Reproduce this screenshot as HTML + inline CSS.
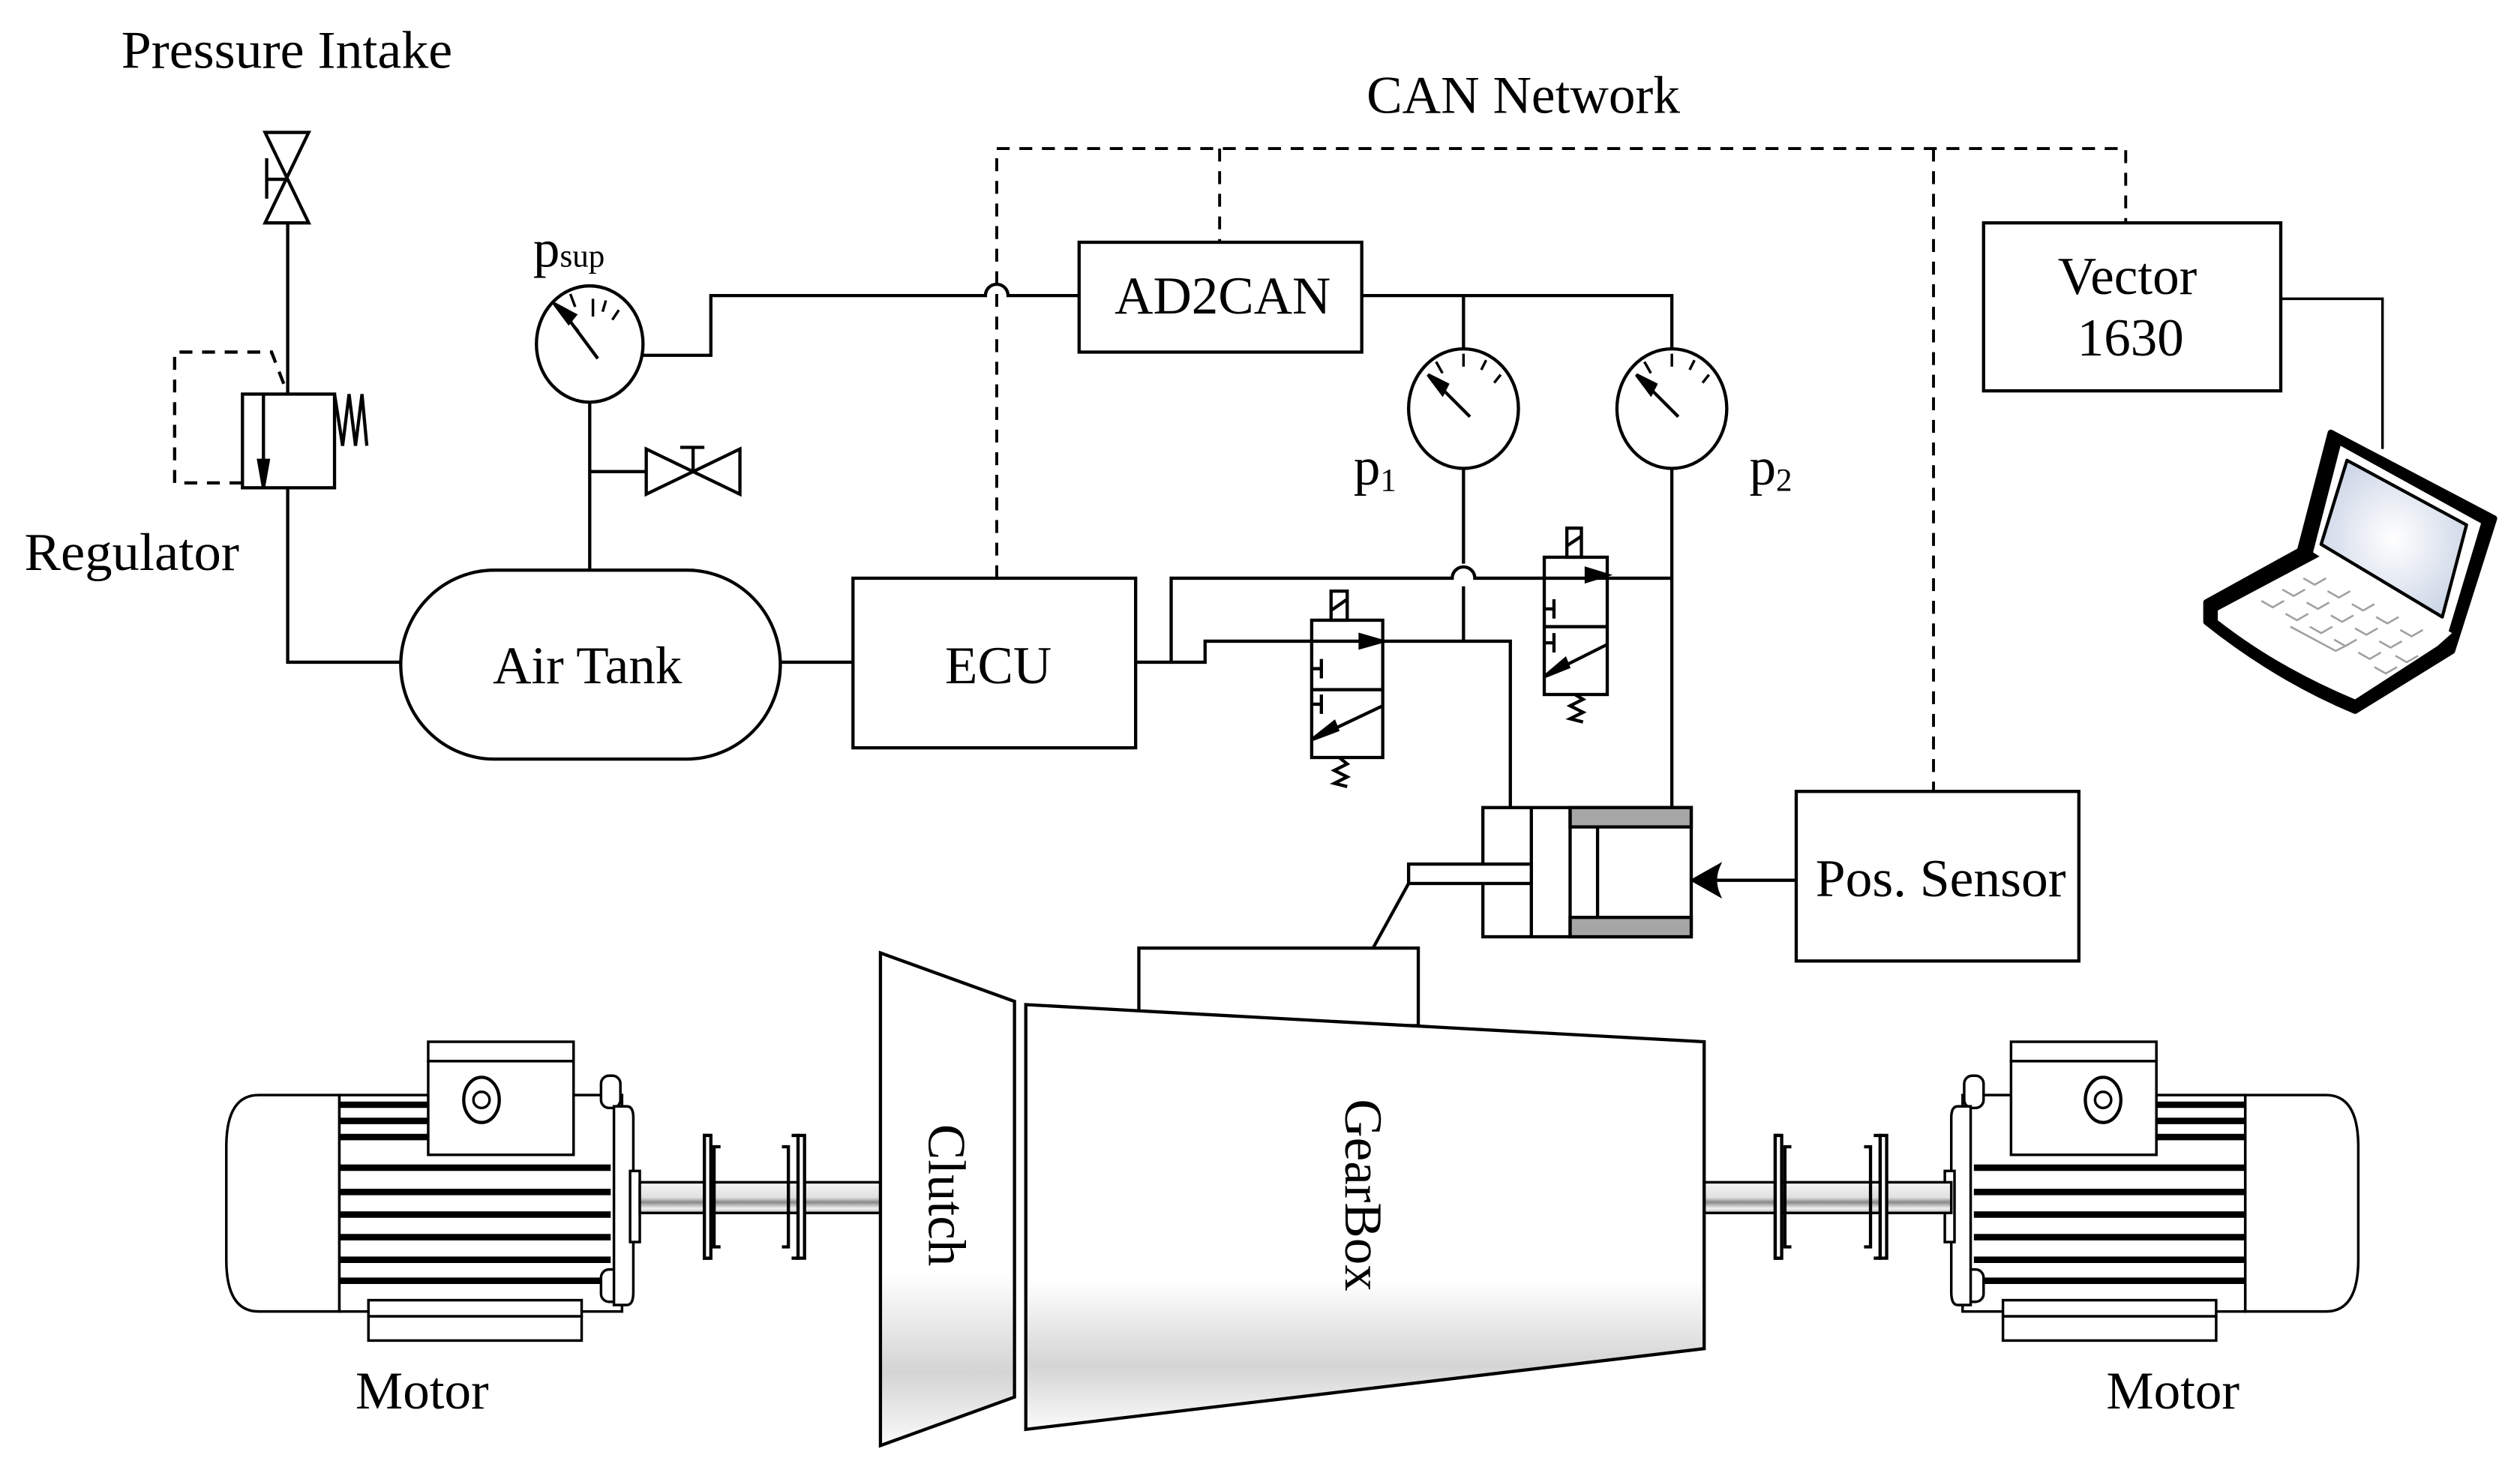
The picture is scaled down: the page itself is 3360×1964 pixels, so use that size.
<!DOCTYPE html>
<html><head><meta charset="utf-8"><style>
html,body{margin:0;padding:0;background:#fff;}
svg{display:block;}
text{font-family:"Liberation Serif",serif;fill:#000;}
</style></head><body>
<svg width="3360" height="1964" viewBox="0 0 1560 912" xmlns="http://www.w3.org/2000/svg">
<defs>
<linearGradient id="gb" x1="0" y1="0" x2="0" y2="1">
<stop offset="0" stop-color="#fff"/><stop offset="0.65" stop-color="#fff"/><stop offset="0.85" stop-color="#d4d4d4"/><stop offset="1" stop-color="#fafafa"/></linearGradient>
<linearGradient id="sh" x1="0" y1="0" x2="0" y2="1">
<stop offset="0" stop-color="#f4f4f4"/><stop offset="0.5" stop-color="#e0e0e0"/><stop offset="0.65" stop-color="#888"/><stop offset="0.85" stop-color="#f0f0f0"/><stop offset="1" stop-color="#bbb"/></linearGradient>
<radialGradient id="scr" cx="0.5" cy="0.5" r="0.6"><stop offset="0" stop-color="#fff"/><stop offset="1" stop-color="#c8d2e4"/></radialGradient>
<g id="motor" fill="#fff" stroke="#000" stroke-width="1.6">
<path d="M210 678 H160 Q140 678 140 710 V780 Q140 812 160 812 H210 Z"/>
<rect x="210" y="678" width="175" height="134"/>
<rect x="265" y="645" width="90" height="12"/>
<rect x="265" y="657" width="90" height="58"/>
<ellipse cx="298" cy="681" rx="11" ry="14" stroke-width="2"/><circle cx="298" cy="681" r="5"/>
<g stroke-width="4"><line x1="210" y1="684" x2="265" y2="684"/><line x1="210" y1="694" x2="265" y2="694"/><line x1="210" y1="704" x2="265" y2="704"/>
<line x1="210" y1="723" x2="378" y2="723"/><line x1="210" y1="738" x2="378" y2="738"/><line x1="210" y1="752" x2="378" y2="752"/><line x1="210" y1="766" x2="378" y2="766"/><line x1="210" y1="780" x2="378" y2="780"/><line x1="210" y1="793" x2="372" y2="793"/></g>
<rect x="372" y="786" width="12" height="20" rx="5"/>
<rect x="372" y="666" width="12" height="20" rx="5"/>
<path d="M380 685 H388 Q392 685 392 692 V800 Q392 808 388 808 H380 Z"/>
<rect x="390" y="725" width="6" height="44"/>
<rect x="228" y="805" width="132" height="10"/>
<rect x="228" y="815" width="132" height="15"/>
</g>
</defs>
<g fill="none" stroke="#000" stroke-width="2">
<path d="M164 82 H191 L164 138 H191 Z"/>
<path d="M165 98 V123 M165 111 H178"/>
<line x1="178" y1="138" x2="178" y2="244"/>
<rect x="150" y="244" width="57" height="58"/>
<line x1="163" y1="244" x2="163" y2="302"/>
<path d="M160 285 L163 302 L166 285 Z" fill="#000"/>
<path d="M207 244 L212 276 L216 244 L220 276 L224 244 L227 276"/>
<path d="M150 299 H108 V218 H168 L178 244" stroke-dasharray="8,6"/>
<path d="M178 302 V410 H248"/>
<path d="M306 353 H425 A58 58.5 0 0 1 425 470 H306 A58 58.5 0 0 1 306 353 Z"/>
<path d="M483 410 H528"/>
<ellipse cx="365" cy="213" rx="33" ry="36"/>
<path d="M358 205 L343 188 M367 185 V196 M375 186 L373 193 M383 192 L379 198 M356 190 L353 182" stroke-width="1.6"/>
<line x1="370" y1="222" x2="350" y2="195"/>
<path d="M343 188 L352 200 L356 195 Z" fill="#000"/>
<line x1="365" y1="249" x2="365" y2="353"/>
<path d="M365 292 H400"/>
<path d="M400 278 V306 L458 278 V306 Z"/>
<path d="M429 292 V277 M421 277 H436"/>
<path d="M398 220 H440 V183 H610 A7 7 0 0 1 624 183 H668"/>
<rect x="668" y="150" width="175" height="68"/>
<path d="M843 183 H1035 V216 M906 183 V216"/>
<ellipse cx="906" cy="253" rx="34" ry="37"/>
<ellipse cx="1035" cy="253" rx="34" ry="37"/>
<path d="M893 231 L889 224 M906 227 V219 M917 229 L920 223 M925 237 L929 232" stroke-width="1.6"/>
<path d="M1022 231 L1018 224 M1035 227 V219 M1046 229 L1049 223 M1054 237 L1058 232" stroke-width="1.6"/>
<line x1="910" y1="258" x2="890" y2="238"/><line x1="1039" y1="258" x2="1019" y2="238"/>
<path d="M884 232 L893 244 L896 238 Z" fill="#000"/><path d="M1013 232 L1022 244 L1025 238 Z" fill="#000"/>
<line x1="906" y1="290" x2="906" y2="349"/>
<line x1="906" y1="363" x2="906" y2="397"/>
<line x1="1035" y1="290" x2="1035" y2="500"/>
<rect x="528" y="358" width="175" height="105"/>
<path d="M703 410 H725 V358 H899 A7 7 0 0 1 913 358 H1035"/>
<path d="M725 410 H746 V397 H935 V500"/>
<rect x="812" y="384" width="44" height="85"/>
<line x1="812" y1="427" x2="856" y2="427"/>
<rect x="824" y="366" width="10" height="18"/>
<line x1="824" y1="378" x2="834" y2="371"/>
<path d="M812 414 H818 M818 408 V420 M812 436 H818 M818 430 V442"/>
<line x1="856" y1="437" x2="818" y2="455"/>
<path d="M812 458 L826 447 L828 452 Z" fill="#000"/>
<path d="M842 393 L856 397 L842 401 Z" fill="#000"/>
<path d="M829 469 L834 473 L826 477 L834 481 L826 485 L834 487"/>
<rect x="956" y="345" width="39" height="85"/>
<line x1="956" y1="388" x2="995" y2="388"/>
<rect x="970" y="327" width="9" height="18"/>
<line x1="970" y1="338" x2="979" y2="332"/>
<path d="M956 377 H962 M962 371 V383 M956 398 H962 M962 392 V404"/>
<line x1="995" y1="399" x2="961" y2="416"/>
<path d="M956 419 L969 408 L971 413 Z" fill="#000"/>
<path d="M982 352 L995 356 L982 360 Z" fill="#000"/>
<path d="M975 430 L980 433 L972 437 L980 441 L972 445 L980 447"/>
<rect x="918" y="500" width="129" height="80"/>
<rect x="972" y="500" width="75" height="12" fill="#a6a6a6"/>
<rect x="972" y="568" width="75" height="12" fill="#a6a6a6"/>
<line x1="948" y1="500" x2="948" y2="580"/>
<line x1="972" y1="500" x2="972" y2="580"/>
<line x1="989" y1="512" x2="989" y2="568"/>
<rect x="872" y="535" width="76" height="12" fill="#fff"/>
<path d="M872 547 L850 587"/>
<path d="M1112 545 H1060"/>
<path d="M1048 545 L1064 536 Q1060 545 1064 554 Z" fill="#000"/>
<rect x="1112" y="490" width="175" height="105"/>
<rect x="1228" y="138" width="184" height="104"/>
<path d="M1412 185 H1475 V278" stroke-width="1.6"/>
<g stroke-dasharray="8,6" stroke-width="1.8">
<path d="M617 358 V92 H1316 V138"/>
<path d="M755 92 V150"/>
<path d="M1197 92 V490"/>
</g>
<rect x="705" y="587" width="173" height="48"/>
</g>
<g stroke="#000" stroke-linejoin="round">
<path d="M1366 373 L1424 341 L1443 268 L1544 321 L1518 403 L1458 440 Q1410 420 1366 385 Z" fill="#000" stroke-width="4"/>
<path d="M1373 378 L1437 344 L1518 392 L1509 400 L1458 433 Q1410 413 1373 384 Z" fill="#fff" stroke-width="0"/>
<path d="M1432 342 L1449 276 L1536 324 L1515 394 Z" fill="#fff" stroke-width="0"/>
<path d="M1437 337 L1453 285 L1527 325 L1512 382 Z" fill="url(#scr)" stroke-width="2"/>
<g stroke="#a0a0a0" stroke-width="1.2" fill="none">
<path d="M1400 372 l7 4 l7 -4 M1413 365 l7 4 l7 -4 M1426 358 l7 4 l7 -4 M1415 380 l7 4 l7 -4 M1428 373 l7 4 l7 -4 M1441 366 l7 4 l7 -4 M1430 388 l7 4 l7 -4 M1443 381 l7 4 l7 -4 M1456 374 l7 4 l7 -4 M1445 396 l7 4 l7 -4 M1458 389 l7 4 l7 -4 M1471 382 l7 4 l7 -4 M1460 404 l7 4 l7 -4 M1473 397 l7 4 l7 -4 M1486 390 l7 4 l7 -4 M1470 413 l7 4 l7 -4 M1483 406 l7 4 l7 -4 M1418 388 l28 15 l8 -4"/>
</g>
</g>
<use href="#motor"/>
<use href="#motor" transform="translate(1600 0) scale(-1 1)"/>
<g stroke="#000" stroke-width="1.6">
<rect x="396" y="732" width="150" height="19" fill="url(#sh)"/>
<rect x="1054" y="732" width="154" height="19" fill="url(#sh)"/>
</g>
<g fill="none" stroke="#000" stroke-width="2">
<path d="M440 703 h-4 v76 h4 M446 710 h-4 v62 h4 M490 703 h4 v76 h-4 M484 710 h4 v62 h-4"/>
<rect x="436" y="703" width="4" height="76" fill="#fff"/><rect x="494" y="703" width="4" height="76" fill="#fff"/>
<path d="M1103 703 h-4 v76 h4 M1109 710 h-4 v62 h4 M1160 703 h4 v76 h-4 M1154 710 h4 v62 h-4"/>
<rect x="1099" y="703" width="4" height="76" fill="#fff"/><rect x="1164" y="703" width="4" height="76" fill="#fff"/>
</g>
<path d="M545 590 L628 620 L628 865 L545 895 Z" fill="url(#gb)" stroke="#000" stroke-width="2"/>
<path d="M635 622 L1055 645 L1055 835 L635 885 Z" fill="url(#gb)" stroke="#000" stroke-width="2"/>
<g font-size="33">
<text x="75" y="42" textLength="205" lengthAdjust="spacingAndGlyphs">Pressure Intake</text>
<text x="15" y="353" textLength="133" lengthAdjust="spacingAndGlyphs">Regulator</text>
<text x="846" y="70" textLength="194" lengthAdjust="spacingAndGlyphs">CAN Network</text>
<text x="690" y="194">AD2CAN</text>
<text x="305" y="423">Air Tank</text>
<text x="585" y="423">ECU</text>
<text x="1124" y="555" textLength="155" lengthAdjust="spacingAndGlyphs">Pos. Sensor</text>
<text x="1274" y="182">Vector</text>
<text x="1286" y="220">1630</text>
<text x="220" y="872">Motor</text>
<text x="1304" y="872">Motor</text>
<text x="330" y="165">p<tspan font-size="20" dy="0">sup</tspan></text>
<text x="838" y="300">p<tspan font-size="20" dy="4">1</tspan></text>
<text x="1083" y="300">p<tspan font-size="20" dy="4">2</tspan></text>
<text transform="translate(575 740) rotate(90)" text-anchor="middle">Clutch</text>
<text transform="translate(833 740) rotate(90)" text-anchor="middle">GearBox</text>
</g>
</svg>
</body></html>
